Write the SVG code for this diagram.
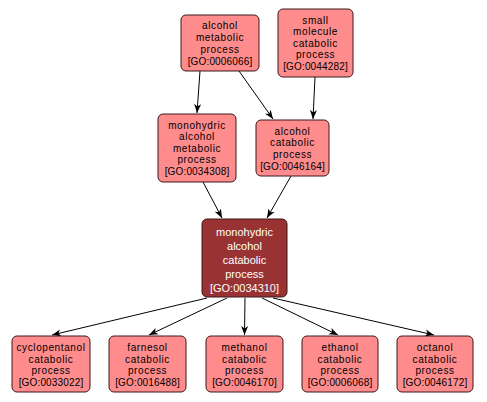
<svg xmlns="http://www.w3.org/2000/svg" width="487" height="402" viewBox="0 0 487 402">
<style>
.n rect{fill:#ff8c8c;stroke:#3a1a1a;stroke-width:1}
.m rect{fill:#993333;stroke:#3a1a1a;stroke-width:1}
text{font-family:"Liberation Sans",Arial,sans-serif;font-size:10px;text-anchor:middle;fill:#000;letter-spacing:0.6px}
text.g{letter-spacing:0.15px}
.m text{fill:#fff;font-size:11px;letter-spacing:0}
#edges line{stroke:#000;stroke-width:1;fill:none;marker-end:url(#ah)}
</style>
<defs>
<marker id="ah" markerUnits="userSpaceOnUse" markerWidth="10" markerHeight="8" refX="9" refY="4" orient="auto">
<path d="M0,0.5 L9,4 L0,7.5 L2.5,4 z" fill="#000"/>
</marker>
</defs>
<rect width="487" height="402" fill="#fff"/>
<g id="edges">
<line x1="200" y1="71" x2="197" y2="113"/>
<line x1="239" y1="71" x2="273" y2="119"/>
<line x1="315" y1="77" x2="313" y2="119"/>
<line x1="203" y1="182" x2="222" y2="218"/>
<line x1="291" y1="176" x2="267" y2="218"/>
<line x1="207" y1="298" x2="52" y2="335"/>
<line x1="227" y1="298" x2="149" y2="335"/>
<line x1="245" y1="298" x2="244.5" y2="335"/>
<line x1="262" y1="298" x2="338" y2="335"/>
<line x1="273" y1="298" x2="434" y2="335"/>
</g>
<g id="n_0006066" class="n">
<rect x="181" y="15" width="78" height="56" rx="5"/>
<text x="220" y="29">alcohol</text>
<text x="220" y="41">metabolic</text>
<text x="220" y="53">process</text>
<text class="g" x="220" y="65">[GO:0006066]</text>
</g>
<g id="n_0044282" class="n">
<rect x="278" y="9" width="75" height="68" rx="5"/>
<text x="315.5" y="23.5">small</text>
<text x="315.5" y="35">molecule</text>
<text x="315.5" y="46.5">catabolic</text>
<text x="315.5" y="58">process</text>
<text class="g" x="315.5" y="69.5">[GO:0044282]</text>
</g>
<g id="n_0034308" class="n">
<rect x="158" y="114" width="78" height="68" rx="5"/>
<text x="197" y="128.5">monohydric</text>
<text x="197" y="140">alcohol</text>
<text x="197" y="151.5">metabolic</text>
<text x="197" y="163">process</text>
<text class="g" x="197" y="174.5">[GO:0034308]</text>
</g>
<g id="n_0046164" class="n">
<rect x="256" y="120" width="73" height="56" rx="5"/>
<text x="292.5" y="134.5">alcohol</text>
<text x="292.5" y="146">catabolic</text>
<text x="292.5" y="157.5">process</text>
<text class="g" x="292.5" y="169.5">[GO:0046164]</text>
</g>
<g id="n_0034310" class="m">
<rect x="202" y="219" width="85" height="78" rx="5"/>
<text x="244.5" y="235.5">monohydric</text>
<text x="244.5" y="249.5">alcohol</text>
<text x="244.5" y="263.5">catabolic</text>
<text x="244.5" y="277.5">process</text>
<text x="244.5" y="291.5">[GO:0034310]</text>
</g>
<g id="n_0033022" class="n">
<rect x="12" y="336" width="78" height="56" rx="5"/>
<text x="51" y="350.5">cyclopentanol</text>
<text x="51" y="362.5">catabolic</text>
<text x="51" y="374">process</text>
<text class="g" x="51" y="386">[GO:0033022]</text>
</g>
<g id="n_0016488" class="n">
<rect x="109" y="336" width="77" height="56" rx="5"/>
<text x="147.5" y="350.5">farnesol</text>
<text x="147.5" y="362.5">catabolic</text>
<text x="147.5" y="374">process</text>
<text class="g" x="147.5" y="386">[GO:0016488]</text>
</g>
<g id="n_0046170" class="n">
<rect x="206" y="336" width="77" height="56" rx="5"/>
<text x="244.5" y="350.5">methanol</text>
<text x="244.5" y="362.5">catabolic</text>
<text x="244.5" y="374">process</text>
<text class="g" x="244.5" y="386">[GO:0046170]</text>
</g>
<g id="n_0006068" class="n">
<rect x="302" y="336" width="76" height="56" rx="5"/>
<text x="340" y="350.5">ethanol</text>
<text x="340" y="362.5">catabolic</text>
<text x="340" y="374">process</text>
<text class="g" x="340" y="386">[GO:0006068]</text>
</g>
<g id="n_0046172" class="n">
<rect x="397" y="336" width="76" height="56" rx="5"/>
<text x="435" y="350.5">octanol</text>
<text x="435" y="362.5">catabolic</text>
<text x="435" y="374">process</text>
<text class="g" x="435" y="386">[GO:0046172]</text>
</g>
</svg>
